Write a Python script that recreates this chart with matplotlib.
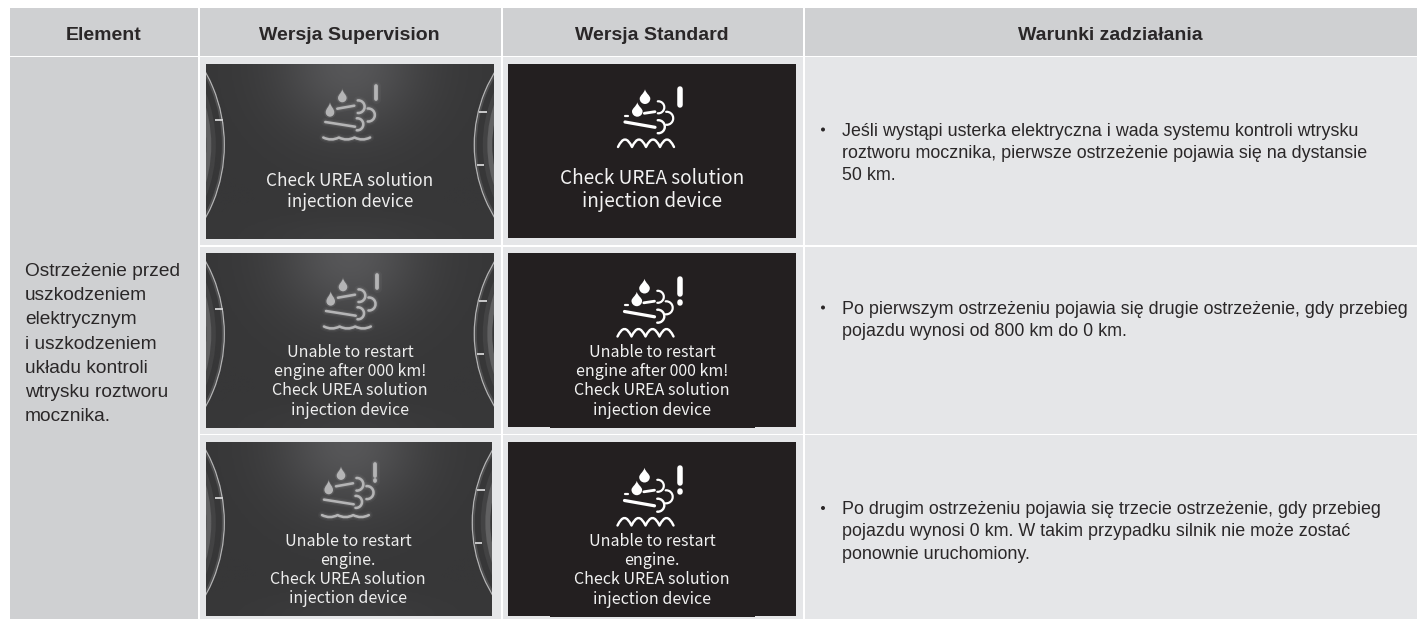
#!/usr/bin/env python
import numpy as np
import matplotlib
matplotlib.use("Agg")
import matplotlib.pyplot as plt
from matplotlib.patches import Rectangle, Arc, PathPatch, Circle
from matplotlib.path import Path

# table content
headers = ["Element", "Wersja Supervision", "Wersja Standard", "Warunki zadziałania"]
element_lines = ["Ostrzeżenie przed", "uszkodzeniem", "elektrycznym", "i uszkodzeniem",
                 "układu kontroli", "wtrysku roztworu", "mocznika."]
screen_msgs = [
    ["Check UREA solution", "injection device"],
    ["Unable to restart", "engine after 000 km!", "Check UREA solution", "injection device"],
    ["Unable to restart", "engine.", "Check UREA solution", "injection device"],
]
conditions = [
    ["Jeśli wystąpi usterka elektryczna i wada systemu kontroli wtrysku",
     "roztworu mocznika, pierwsze ostrzeżenie pojawia się na dystansie",
     "50 km."],
    ["Po pierwszym ostrzeżeniu pojawia się drugie ostrzeżenie, gdy przebieg",
     "pojazdu wynosi od 800 km do 0 km."],
    ["Po drugim ostrzeżeniu pojawia się trzecie ostrzeżenie, gdy przebieg",
     "pojazdu wynosi 0 km. W takim przypadku silnik nie może zostać",
     "ponownie uruchomiony."],
]

HEAD = "#cfd0d2"
BODY = "#e5e6e8"
INK = "#2a2728"
SANS = "Liberation Sans"
SCREEN_FONT = ["Noto Sans CJK KR", "DejaVu Sans"]
PX = 0.72  # one pixel in points at dpi 100

fig = plt.figure(figsize=(14.17, 6.19), dpi=100, facecolor="white")
ax = fig.add_axes([0, 0, 1, 1])


def box(x0, x1, y0, y1, color, **kw):
    r = Rectangle((x0, y0), x1 - x0, y1 - y0, facecolor=color, edgecolor="none", **kw)
    ax.add_patch(r)
    return r


# header and body cells
col_edges = [(9.5, 198), (199.5, 501), (502.5, 803), (804.5, 1417)]
row_edges = [(57, 245), (246.5, 434), (435, 619)]
for x0, x1 in col_edges:
    box(x0, x1, 8, 55.7, HEAD)
box(9.5, 198, 57, 619, HEAD)
for x0, x1 in col_edges[1:]:
    for y0, y1 in row_edges:
        box(x0, x1, y0, y1, BODY)

header_x = [104, 349.5, 651.7, 1110]
for x, t in zip(header_x, headers):
    ax.text(x, 39.8, t, ha="center", va="baseline", family=SANS, weight="bold",
            fontsize=14, color=INK)

for i, t in enumerate(element_lines):
    ax.text(25, 276 + i * 24.2, t, ha="left", va="baseline", family=SANS,
            fontsize=13.75, color=INK)

cond_baselines = [135.5, 313.5, 514]
for lines, y in zip(conditions, cond_baselines):
    ax.add_patch(Circle((823, y - 6), 2.0, color=INK, lw=0))
    for i, t in enumerate(lines):
        ax.text(842, y + i * 22.4, t, ha="left", va="baseline", family=SANS,
                fontsize=12.9, color=INK)


def drop(cx, top, bottom, hw, color, alpha=1.0, grow=0):
    w = hw + grow
    t = top - grow
    b = bottom + grow
    h = b - t
    verts = [(cx, t),
             (cx + w * 0.2, t + h * 0.3), (cx + w, t + h * 0.42), (cx + w, b - w),
             (cx + w, b - w * 0.45), (cx + w * 0.55, b), (cx, b),
             (cx - w * 0.55, b), (cx - w, b - w * 0.45), (cx - w, b - w),
             (cx - w, t + h * 0.42), (cx - w * 0.2, t + h * 0.3), (cx, t),
             (cx, t)]
    codes = [Path.MOVETO] + [Path.CURVE4] * 12 + [Path.CLOSEPOLY]
    ax.add_patch(PathPatch(Path(verts, codes), facecolor=color, edgecolor="none", alpha=alpha))


def waves(x0, step, n, y_low, y_high, color, lw, alpha=1.0):
    verts = [(x0, y_low)]
    codes = [Path.MOVETO]
    for k in range(n):
        verts += [(x0 + (k + 0.5) * step, y_high), (x0 + (k + 1) * step, y_low)]
        codes += [Path.CURVE3, Path.CURVE3]
    ax.add_patch(PathPatch(Path(verts, codes), facecolor="none", edgecolor=color,
                           lw=lw * PX, alpha=alpha, capstyle="round", joinstyle="round"))


def stroke(x, y, color, lw, alpha=1.0, cap="round"):
    ax.plot(x, y, color=color, lw=lw * PX, alpha=alpha, solid_capstyle=cap)


def curl(cx, cy, r, color, lw, alpha=1.0):
    ax.add_patch(Arc((cx, cy), 2 * r, 2 * r, theta1=-95, theta2=95, edgecolor=color,
                     lw=lw * PX, alpha=alpha, capstyle="round"))


def icon_supervision(dx, dy):
    c = "#b4b4b5"
    for lw, a in [(8, 0.06), (5, 0.12), (2.6, 1.0)]:
        stroke([337.3 + dx, 354.3 + dx], [108.7 + dy, 105.7 + dy], c, lw, a)
        stroke([325.3 + dx, 355 + dx], [122 + dy, 126.7 + dy], c, lw, a)
        stroke([376.3 + dx, 376.3 + dx], [86 + dy, 98.5 + dy], c, lw + 1.2, a)
        stroke([376.3 + dx, 376.3 + dx], [102.8 + dy, 103 + dy], c, lw + 1.2, a)
        curl(358.3 + dx, 106.7 + dy, 6.3, c, lw, a)
        curl(368.3 + dx, 115 + dy, 6.5, c, lw, a)
        curl(357.3 + dx, 124.3 + dy, 6, c, lw, a)
        waves(323.3 + dx, 15.6, 3, 137.5 + dy, 141.5 + dy, c, lw, a)
    drop(342.3 + dx, 89.3 + dy, 102.3 + dy, 4.3, c, 0.15, 1.5)
    drop(330 + dx, 102.7 + dy, 116.7 + dy, 4.3, c, 0.15, 1.5)
    drop(342.3 + dx, 89.3 + dy, 102.3 + dy, 4.3, c)
    drop(330 + dx, 102.7 + dy, 116.7 + dy, 4.3, c)


def icon_standard(dx, dy):
    c = "#ffffff"
    stroke([644.3 + dx, 655 + dx], [113.3 + dy, 111.7 + dy], c, 2.8)
    stroke([625 + dx, 628 + dx], [115.5 + dy, 115.5 + dy], c, 2.2)
    stroke([625 + dx, 655 + dx], [122 + dy, 127.3 + dy], c, 3.2)
    stroke([680.3 + dx, 680.3 + dx], [89 + dy, 104.5 + dy], c, 5.5)
    stroke([680.3 + dx, 680.3 + dx], [112.5 + dy, 113 + dy], c, 5.5)
    curl(658.3 + dx, 107.3 + dy, 6, c, 2.2)
    curl(666.7 + dx, 118.3 + dy, 6.5, c, 2.2)
    curl(658.3 + dx, 126.7 + dy, 6.5, c, 2.4)
    waves(618 + dx, 14, 4, 147 + dy, 132 + dy, c, 2.4)
    drop(645 + dx, 89.3 + dy, 104 + dy, 5.3, c)
    drop(637.3 + dx, 102.3 + dy, 116.7 + dy, 5.3, c)


def gauge(panel, cx, R, ticks, y_mid):
    # bezel of the dial, cut off by the panel edge
    parts = [(R, 1.3, "#c9c9ca", 0.85), (R - 1.6, 1.6, "#6a6a6b", 0.5),
             (R - 15.5, 5, "#8c8c8d", 0.5), (R - 11, 5, "#5a5a5b", 0.35)]
    for r, lw, col, a in parts:
        arc = Arc((cx, y_mid), 2 * r, 2 * r, edgecolor=col, lw=lw * PX, alpha=a)
        ax.add_patch(arc)
        arc.set_clip_path(panel)
    for x0, x1, y in ticks:
        ax.plot([x0, x1], [y, y], color="#d4d4d5", lw=1.8 * PX, solid_capstyle="butt", clip_path=panel)


# soft light from the top centre of the supervision screens
gy, gx = np.mgrid[0:1:120j, -1:1:200j]
glow = np.exp(-(gx / 0.5) ** 2 - (gy / 0.38) ** 2) * 0.28 + np.exp(-(gx / 0.6) ** 2 - ((1 - gy) / 0.12) ** 2) * 0.05
cmap = matplotlib.colors.LinearSegmentedColormap.from_list("scr", ["#373738", "#5c5c5e"])

sup_panels = [(206, 494, 64, 239), (206, 494, 253, 428), (206, 492, 442, 616)]
std_panels = [(508, 796, 64, 238), (508, 796, 253, 427), (508, 796, 442, 616)]
sup_icon_shift = [(0, 0), (0.7, 189), (-1.3, 377.6)]
std_icon_shift = [(0, 0), (-0.5, 189.5), (-0.5, 378.5)]
sup_text_cx = [350, 350, 348]
std_text_cx = [652, 652, 652]
sup_first_base = [186, 357, 545.5]
std_first_base = [184, 357, 546]
line_gap = [[21], [19.2], [19.2]]
sup_size = [12.4, 11.5, 11.5]
std_size = [13.7, 11.5, 11.5]

for i, (x0, x1, y0, y1) in enumerate(sup_panels):
    ax.imshow(glow, extent=(x0, x1, y1, y0), cmap=cmap, vmin=0, vmax=0.33, aspect="auto",
              interpolation="bilinear", zorder=1)
    clip = box(x0, x1, y0, y1, "none", zorder=0)
    my = (y0 + y1) / 2 - 6.5
    gauge(clip, 73.5 + (x0 - 206), 150.8, [(215, 222.7, my - 25)], my)
    gauge(clip, 613.9 + (x1 - 494), 139.6,
          [(479 + x1 - 494, 487 + x1 - 494, my - 33), (477 + x1 - 494, 484 + x1 - 494, my + 20)], my)
    icon_supervision(*sup_icon_shift[i])
    for k, t in enumerate(screen_msgs[i]):
        ax.text(sup_text_cx[i], sup_first_base[i] + k * line_gap[i][0], t, ha="center", va="baseline",
                family=SCREEN_FONT, fontsize=sup_size[i], color="#eeeeee")

for i, (x0, x1, y0, y1) in enumerate(std_panels):
    box(x0, x1, y0, y1, "#231f20")
    if i > 0:
        box(550, 755, y1, y1 + 1, "#231f20")
    icon_standard(*std_icon_shift[i])
    for k, t in enumerate(screen_msgs[i]):
        gap = 23 if i == 0 else 19.2
        ax.text(std_text_cx[i], std_first_base[i] + k * gap, t, ha="center", va="baseline",
                family=SCREEN_FONT, fontsize=std_size[i], color="#f2f2f2")

ax.set_xlim(0, 1417)
ax.set_ylim(619, 0)
ax.axis("off")
fig.savefig("out.png", dpi=100)
